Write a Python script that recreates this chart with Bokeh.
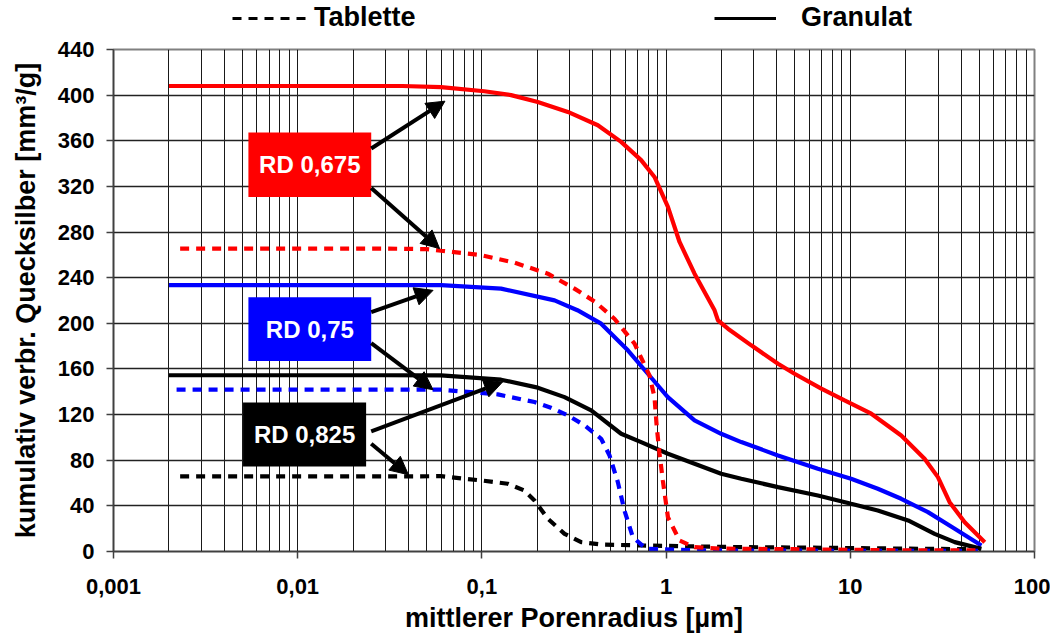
from bokeh.plotting import figure
from bokeh.layouts import column
from bokeh.models import Range1d, FixedTicker, Legend, LegendItem, Arrow, NormalHead
from bokeh.core.properties import value
from bokeh.embed import file_html
from bokeh.resources import INLINE

FONT = "Liberation Sans"

# ---------------- data (mittlerer Porenradius [µm], kumulativ Hg [mm3/g]) ----------------
gran_0675_x = [0.002, 0.005, 0.01, 0.02, 0.037, 0.06, 0.103, 0.144, 0.201, 0.293, 0.426, 0.570,
               0.732, 0.865, 1.023, 1.183, 1.427, 1.833, 1.912, 2.167, 2.90, 4.05, 4.98, 6.96,
               9.31, 13.0, 18.9, 25.3, 29.9, 34.6, 41.8, 53.7]
gran_0675_y = [408, 408, 408, 408, 408, 407, 403.4, 400, 394, 385.3, 373.6, 359,
               343, 328.3, 302, 271.3, 243.5, 211.4, 202.6, 195.3, 180.7, 164.6, 155.8, 142.7,
               132.4, 120.8, 101.7, 81.3, 65.2, 43.2, 25.7, 8.2]

gran_075_x = [0.002, 0.01, 0.03, 0.06, 0.127, 0.248, 0.33, 0.444, 0.620, 0.796, 1.022, 1.427,
              1.99, 2.56, 4.05, 6.67, 10.1, 14.1, 18.9, 26.4, 36.9, 51.5]
gran_075_y = [233.5, 233.5, 233.5, 233.5, 230.4, 220.1, 211.5, 199.7, 176.3, 155.8, 135.3, 114.9,
              103.2, 95.9, 84.2, 72.5, 63.8, 55, 46.2, 34.5, 19.9, 5.3]

gran_0825_x = [0.002, 0.01, 0.03, 0.06, 0.127, 0.201, 0.281, 0.392, 0.570, 0.732, 1.023, 1.427,
               1.99, 2.56, 4.05, 6.67, 10.1, 14.1, 20.6, 28.7, 36.9, 51.5]
gran_0825_y = [154.5, 154.5, 154.5, 154.4, 150.6, 143.6, 135.3, 123.7, 103.2, 95.9, 85.7, 76.9,
               68.1, 63.8, 56.4, 49.1, 41.8, 36, 27.2, 15.5, 8.2, 2.3]

tab_0675_x = [0.0023, 0.01, 0.03, 0.05, 0.06, 0.099, 0.150, 0.228, 0.318, 0.41, 0.524, 0.674,
              0.812, 0.865, 0.89, 0.921, 0.96, 1.023, 1.183, 1.427, 2, 5, 10, 20, 48]
tab_0675_y = [265.5, 265.5, 265.5, 265, 263.6, 259.8, 253.2, 243.5, 230.4, 219, 204, 182.2,
              154.4, 135.3, 109, 85.7, 62.3, 30.1, 9.6, 3.8, 2.5, 2, 1.5, 1, 1]

tab_075_x = [0.0022, 0.01, 0.03, 0.06, 0.122, 0.193, 0.237, 0.293, 0.361, 0.444, 0.493, 0.547,
             0.594, 0.660, 0.78, 1.5, 3, 10, 20, 50]
tab_075_y = [141.8, 141.8, 141.8, 141.8, 137.7, 131, 126, 119.3, 110.5, 98.8, 84.2, 60.8,
             36, 12.5, 2.3, 1, 0.8, 0.6, 0.5, 0.5]

tab_0825_x = [0.0023, 0.01, 0.03, 0.06, 0.099, 0.138, 0.170, 0.193, 0.228, 0.281, 0.346, 0.444,
              0.732, 1.16, 2.56, 5, 10, 20, 49]
tab_0825_y = [65.8, 65.8, 65.8, 66, 62.3, 59.4, 53.5, 44.7, 28.7, 15.5, 8.2, 6.1,
              5.3, 4.7, 3.8, 3.5, 3, 2.5, 2]

x_ticks = [0.001, 0.01, 0.1, 1, 10, 100]
x_tick_labels = ["0,001", "0,01", "0,1", "1", "10", "100"]
y_ticks = [0, 40, 80, 120, 160, 200, 240, 280, 320, 360, 400, 440]

legend_labels = ["Tablette", "Granulat"]

box_labels = ["RD 0,675", "RD 0,75", "RD 0,825"]
box_colors = ["#FF0000", "#0000FF", "#000000"]
# annotation boxes (data coords): left, right, bottom, top
box_left = [0.0054, 0.0054, 0.00505]
box_right = [0.02507, 0.02507, 0.02352]
box_bottom = [310.7, 166.9, 74.5]
box_top = [367.2, 222.8, 130.7]
# arrows (data coords): start -> end
arrow_x0 = [0.02507, 0.02507, 0.02507, 0.02507, 0.02507, 0.02507]
arrow_y0 = [353.2, 318.6, 209.9, 182.7, 105.2, 94.5]
arrow_x1 = [0.0630, 0.0589, 0.0543, 0.0543, 0.1294, 0.0399]
arrow_y1 = [394.7, 265.5, 228.9, 141.8, 148.5, 67.3]

TOTAL_W = 1050
DASH = "9 7"

# ---------------- legend strip (above the chart) ----------------
lf = figure(width=TOTAL_W, height=37, x_range=Range1d(0, 1), y_range=Range1d(0, 1),
            output_backend="svg", toolbar_location=None, min_border=0)
lf.axis.visible = False
lf.grid.visible = False
lf.outline_line_color = None
lf.border_fill_color = "white"
# legend sample renderers (kept outside the visible range; only their legend glyphs show)
r_tab = lf.line(x=[-5, -4], y=[-5, -4], line_color="black", line_width=3, line_dash=DASH)
r_gran = lf.line(x=[-5, -4], y=[-5, -4], line_color="black", line_width=3)
leg_common = dict(padding=0, margin=0, border_line_color=None, background_fill_alpha=0,
                  label_text_font=FONT, label_text_font_style="bold", label_text_color="black",
                  label_text_font_size="27px", glyph_height=30, label_height=30)
lf.add_layout(Legend(items=[LegendItem(label=legend_labels[0], renderers=[r_tab])],
                     location=(119, 4), glyph_width=74, label_standoff=8, **leg_common))
lf.add_layout(Legend(items=[LegendItem(label=legend_labels[1], renderers=[r_gran])],
                     location=(601, 4), glyph_width=62, label_standoff=25, **leg_common))

# ---------------- main chart ----------------
p = figure(frame_width=921, frame_height=502, x_axis_type="log",
           x_range=Range1d(0.001, 100), y_range=Range1d(0, 440),
           output_backend="svg", toolbar_location=None,
           min_border_left=113, min_border_right=16, min_border_top=12, min_border_bottom=80)
p.background_fill_color = "white"
p.border_fill_color = "white"
p.outline_line_color = "#808080"
p.outline_line_width = 2

minor = [m * 10.0 ** e for e in range(-3, 2) for m in range(2, 10)]
p.xaxis.ticker = FixedTicker(ticks=x_ticks, minor_ticks=minor)
p.yaxis.ticker = FixedTicker(ticks=y_ticks)
p.xaxis.major_label_overrides = {t: l for t, l in zip(x_ticks, x_tick_labels)}

p.xgrid.grid_line_color = "#000000"
p.xgrid.grid_line_alpha = 0.9
p.xgrid.grid_line_width = 1
p.xgrid.minor_grid_line_color = "#000000"
p.xgrid.minor_grid_line_alpha = 0.9
p.xgrid.minor_grid_line_width = 1
p.ygrid.grid_line_color = "#222222"
p.ygrid.grid_line_width = 1.3

for ax in (p.xaxis[0], p.yaxis[0]):
    ax.axis_line_color = "#404040"
    ax.axis_line_width = 1.5
    ax.major_tick_line_color = "#404040"
    ax.major_tick_line_width = 1.5
    ax.major_tick_in = 0
    ax.major_tick_out = 7
    ax.minor_tick_line_color = None
    ax.major_label_text_font = FONT
    ax.major_label_text_font_style = "bold"
    ax.major_label_text_font_size = "22px"
    ax.major_label_text_color = "black"
    ax.axis_label_text_font = FONT
    ax.axis_label_text_font_style = "bold"
    ax.axis_label_text_font_size = "27px"
    ax.axis_label_text_color = "black"

p.xaxis.axis_label = "mittlerer Porenradius [µm]"
p.yaxis.axis_label = "kumulativ verbr. Quecksilber [mm³/g]"
p.xaxis.major_label_standoff = 20
p.xaxis.axis_label_standoff = 6
p.yaxis.major_label_standoff = 12
p.yaxis.axis_label_standoff = 14

LW = 4.2
p.line(gran_075_x, gran_075_y, line_color="#0000FF", line_width=LW)
p.line(gran_0825_x, gran_0825_y, line_color="#000000", line_width=LW)
p.line(gran_0675_x, gran_0675_y, line_color="#FF0000", line_width=LW)
p.line(tab_0825_x, tab_0825_y, line_color="#000000", line_width=LW, line_dash=DASH)
p.line(tab_075_x, tab_075_y, line_color="#0000FF", line_width=LW, line_dash=DASH)
p.line(tab_0675_x, tab_0675_y, line_color="#FF0000", line_width=LW, line_dash=DASH)

# annotation boxes
p.quad(left=box_left, right=box_right, bottom=box_bottom, top=box_top,
       fill_color=box_colors, line_color=None)
cx = [(l * r) ** 0.5 for l, r in zip(box_left, box_right)]
cy = [(b + t) / 2 for b, t in zip(box_bottom, box_top)]
p.text(x=cx, y=cy, text=box_labels, text_color="white", text_font=value(FONT),
       text_font_style="bold", text_font_size="24px", text_align="center",
       text_baseline="middle")

for x0, y0, x1, y1 in zip(arrow_x0, arrow_y0, arrow_x1, arrow_y1):
    p.add_layout(Arrow(x_start=x0, y_start=y0, x_end=x1, y_end=y1,
                       line_color="black", line_width=4,
                       end=NormalHead(size=18, fill_color="black", line_color="black")))

layout = column(lf, p, spacing=0)
open("out.html", "w").write(file_html(layout, INLINE))
